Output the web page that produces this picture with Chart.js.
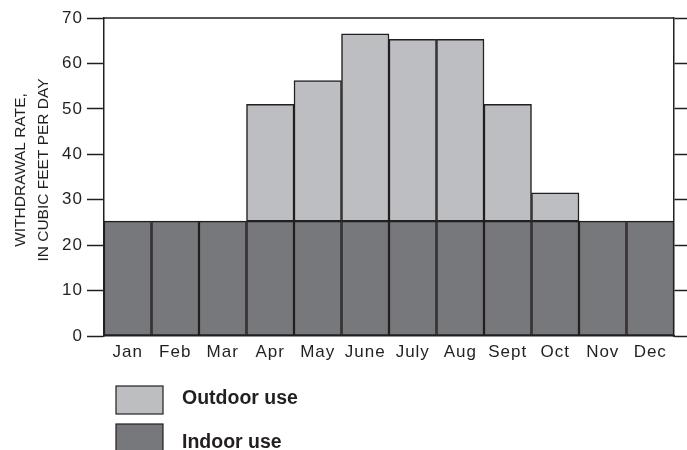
<!DOCTYPE html>
<html>
<head>
<meta charset="utf-8">
<script src="https://cdn.jsdelivr.net/npm/chart.js@4"></script>
<style>
html,body{margin:0;padding:0;background:#fff;}
#wrap{width:687px;height:450px;position:relative;}
</style>
</head>
<body>
<div id="wrap"><canvas id="c" width="687" height="450"></canvas></div>
<script>
const months = ['Jan','Feb','Mar','Apr','May','June','July','Aug','Sept','Oct','Nov','Dec'];
const indoorUse = [25.3,25.3,25.3,25.3,25.3,25.3,25.3,25.3,25.3,25.3,25.3,25.3];
const outdoorUse = [null,null,null,25.7,30.9,41.2,40.0,40.0,25.7,6.2,null,null];
const yTicks = [0,10,20,30,40,50,60,70];
const yTitle = ['WITHDRAWAL RATE,','IN CUBIC FEET PER DAY'];

const INK = '#231f20';
const FONT = '"Liberation Sans", Arial, sans-serif';

const extras = {
  id: 'extras',
  beforeDraw(chart) {
    chart.ctx.letterSpacing = '1px';
  },
  afterDraw(chart) {
    const ctx = chart.ctx;
    const a = chart.chartArea;
    ctx.save();
    // top frame line
    ctx.strokeStyle = INK;
    ctx.lineWidth = 1.5;
    ctx.beginPath();
    ctx.moveTo(a.left, a.top);
    ctx.lineTo(a.right, a.top);
    ctx.stroke();
    // y title
    ctx.letterSpacing = '0px';
    ctx.fillStyle = INK;
    ctx.font = '15.5px ' + FONT;
    ctx.textAlign = 'center';
    ctx.textBaseline = 'middle';
    const cy = 170;
    const xs = [21, 44];
    yTitle.forEach((t, i) => {
      ctx.save();
      ctx.translate(xs[i], cy);
      ctx.rotate(-Math.PI / 2);
      ctx.fillText(t, 0, 0);
      ctx.restore();
    });
    // legend
    ctx.letterSpacing = '0px';
    const order = [1, 0];
    const boxY = [386, 424];
    const textY = [399, 443];
    order.forEach((di, i) => {
      const ds = chart.data.datasets[di];
      ctx.fillStyle = ds.backgroundColor;
      ctx.fillRect(116, boxY[i], 47, 28);
      ctx.strokeStyle = INK;
      ctx.lineWidth = 1.2;
      ctx.strokeRect(116, boxY[i], 47, 28);
      ctx.fillStyle = INK;
      ctx.font = 'bold 19.5px ' + FONT;
      ctx.textAlign = 'left';
      ctx.textBaseline = 'middle';
      ctx.fillText(ds.label, 182, textY[i]);
    });
    ctx.restore();
  }
};

new Chart(document.getElementById('c'), {
  type: 'bar',
  data: {
    labels: months,
    datasets: [
      { label: 'Indoor use', data: indoorUse, backgroundColor: '#77787c', borderColor: INK, borderWidth: 1.5, borderSkipped: false, categoryPercentage: 1, barPercentage: 1 },
      { label: 'Outdoor use', data: outdoorUse, backgroundColor: '#bdbec1', borderColor: INK, borderWidth: 1.5, borderSkipped: false, categoryPercentage: 1, barPercentage: 1 }
    ]
  },
  options: {
    responsive: false,
    animation: false,
    events: [],
    layout: { padding: { top: 18, left: 0, right: 0, bottom: 0 } },
    plugins: { legend: { display: false }, tooltip: { enabled: false } },
    scales: {
      x: {
        stacked: true,
        grid: { display: false },
        border: { display: true, color: INK, width: 1.5 },
        ticks: { color: INK, font: { family: FONT, size: 17 }, padding: -2, maxRotation: 0, autoSkip: false },
        afterFit(s) { s.height = 114; }
      },
      y: {
        stacked: true,
        min: 0, max: 70,
        afterBuildTicks(s) { s.ticks = yTicks.map(v => ({ value: v })); },
        ticks: { color: INK, font: { family: FONT, size: 17 }, padding: 4 },
        grid: { drawOnChartArea: false, drawTicks: true, tickLength: 17, tickWidth: 1.5, tickColor: INK },
        border: { display: true, color: INK, width: 1.5 },
        afterFit(s) { s.width = 104; }
      },
      y2: {
        position: 'right',
        min: 0, max: 70,
        afterBuildTicks(s) { s.ticks = yTicks.map(v => ({ value: v })); },
        ticks: { display: false },
        grid: { drawOnChartArea: false, drawTicks: true, tickLength: 13, tickWidth: 1.5, tickColor: INK },
        border: { display: true, color: INK, width: 1.5 },
        afterFit(s) { s.width = 13; }
      }
    }
  },
  plugins: [extras]
});
</script>
</body>
</html>
